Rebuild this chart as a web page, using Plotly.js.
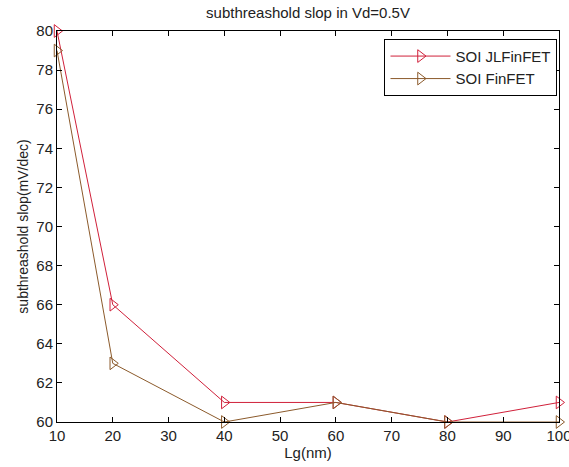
<!DOCTYPE html>
<html><head><meta charset="utf-8">
<script src="https://cdn.plot.ly/plotly-3.0.1.min.js"></script>
<style>body{margin:0;padding:0;background:#fff}#c{width:569px;height:467px}</style>
</head><body><div id="c"></div>
<script>
var lg = [10, 20, 40, 60, 80, 100];
var jlFinFET = [80, 66, 61, 61, 60, 61];
var finFET = [79, 63, 60, 61, 60, 60];
var xTicks = [10, 20, 30, 40, 50, 60, 70, 80, 90, 100];
var yTicks = [60, 62, 64, 66, 68, 70, 72, 74, 76, 78, 80];

var fam = 'Liberation Sans, Arial, sans-serif';
var font = {family: fam, size: 15, color: '#222'};
var traces = [
  {x: lg, y: jlFinFET, name: 'SOI JLFinFET', mode: 'lines+markers',
   line: {color: '#d0203a', width: 1},
   marker: {symbol: 'triangle-right-open', size: 11, color: '#d0203a', line: {width: 1}},
   cliponaxis: false},
  {x: lg, y: finFET, name: 'SOI FinFET', mode: 'lines+markers',
   line: {color: '#8b5a2b', width: 1},
   marker: {symbol: 'triangle-right-open', size: 11, color: '#8b5a2b', line: {width: 1}},
   cliponaxis: false}
];
var axisCommon = {showgrid: false, zeroline: false, showline: true, mirror: 'ticks',
  linecolor: '#000', linewidth: 1, ticks: 'inside', ticklen: 5, tickcolor: '#000',
  tickfont: font, ticklabeloverflow: 'allow', automargin: false};
var layout = {
  width: 569, height: 467,
  margin: {l: 57, r: 10, t: 31, b: 45},
  paper_bgcolor: '#fff', plot_bgcolor: '#fff',
  font: font,
  title: {text: 'subthreashold slop in Vd=0.5V', font: font, xref: 'paper', x: 0.5, xanchor: 'center',
    yref: 'container', y: 0.972, yanchor: 'middle'},
  xaxis: Object.assign({}, axisCommon, {range: [10, 100], tickvals: xTicks, ticktext: xTicks.map(String),
    title: {text: 'Lg(nm)', font: font, standoff: 2}}),
  yaxis: Object.assign({}, axisCommon, {range: [60, 80], tickvals: yTicks, ticktext: yTicks.map(String),
    title: {text: 'subthreashold slop(mV/dec)', font: {family: fam, size: 14, color: '#222'}, standoff: 4}}),
  legend: {x: 0.997, xanchor: 'right', y: 0.98, yanchor: 'top', bgcolor: '#fff',
    bordercolor: '#000', borderwidth: 1, font: font, itemwidth: 60, tracegroupgap: 2,
    entrywidth: 195, entrywidthmode: 'pixels'},
  showlegend: true
};
Plotly.newPlot('c', traces, layout, {displayModeBar: false, staticPlot: true});
</script></body></html>
